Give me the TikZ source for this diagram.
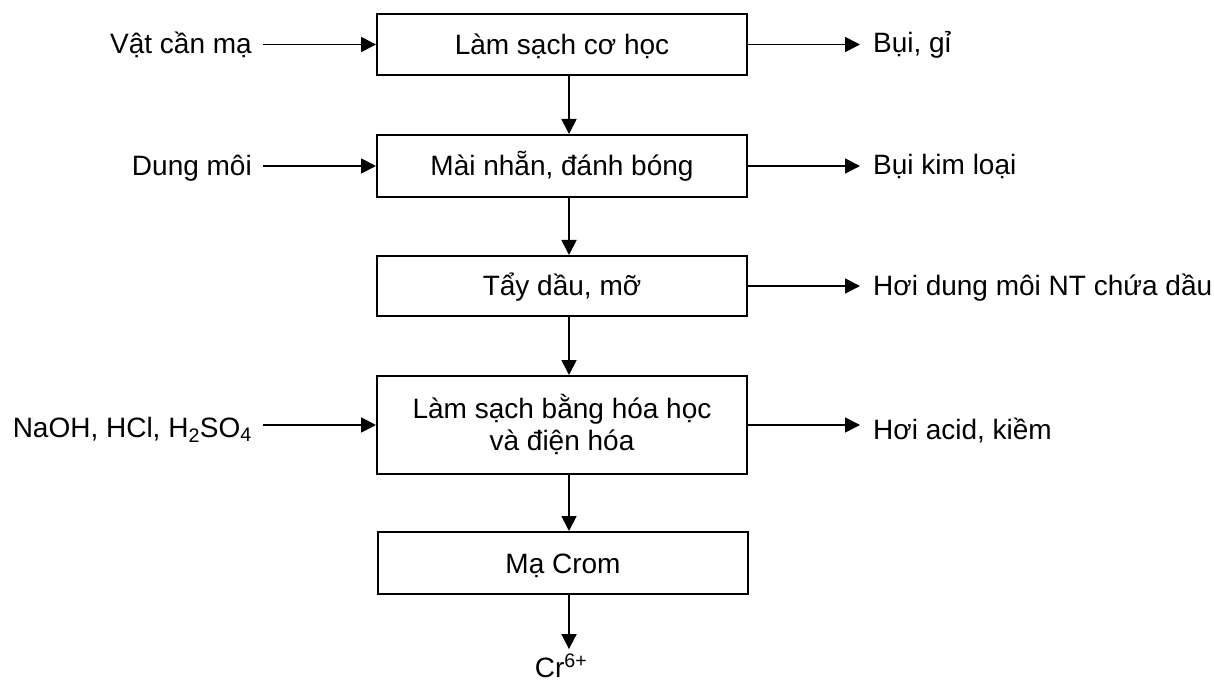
\documentclass[tikz,border=0pt]{standalone}
\usepackage{fontspec}
\setmainfont{Liberation Sans}
\usetikzlibrary{arrows.meta}
\begin{document}
\begin{tikzpicture}[x=1pt,y=-1pt,
  every node/.style={font=\fontsize{28}{32.5}\selectfont},
  procbox/.style={draw,line width=2pt,minimum width=370pt,inner sep=0pt,align=center},
  oneline/.style={text height=24pt,text depth=4pt},
  inlab/.style={anchor=base east,inner xsep=11pt,inner ysep=0pt},
  outlab/.style={anchor=base west,inner xsep=13pt,inner ysep=0pt},
  arr/.style={line width=1.8pt,-{Triangle[length=15pt,width=15pt]}}]
\useasboundingbox (0,0) rectangle (1214,684);
\coordinate (ax) at (569,0);
% process boxes
\node[procbox,oneline,minimum height=61pt] (b1) at (562,44.5) {Làm sạch cơ học};
\node[procbox,oneline,minimum height=62pt] (b2) at (562,166) {Mài nhẵn, đánh bóng};
\node[procbox,oneline,minimum height=60pt] (b3) at (562,286) {Tẩy dầu, mỡ};
\node[procbox,minimum height=98pt] (b4) at (562,425)
  {\begin{tabular}{@{}c@{}}\rule{0pt}{28.75pt}Làm sạch bằng hóa học\\và điện hóa\end{tabular}};
\node[procbox,oneline,minimum height=62pt] (b5) at (563,563) {Mạ Crom};
% inputs
\node[inlab] (i1) at (263,54) {Vật cần mạ};
\node[inlab] (i2) at (263,176) {Dung môi};
\node[inlab] (i4) at (263,437) {NaOH, HCl, H\textsubscript{2}SO\textsubscript{4}};
% outputs
\node[outlab] (o1) at (860,53) {Bụi, gỉ};
\node[outlab] (o2) at (860,175) {Bụi kim loại};
\node[outlab] (o3) at (860,295) {Hơi dung môi NT chứa dầu};
\node[outlab] (o4) at (860,439) {Hơi acid, kiềm};
% final product
\node[anchor=base,inner sep=0pt] (cr) at (561,677) {Cr\textsuperscript{6+}};
% input arrows
\draw[arr] (i1.east |- b1.west) -- (b1.west);
\draw[arr] (i2.east |- b2.west) -- (b2.west);
\draw[arr] (i4.east |- b4.west) -- (b4.west);
% output arrows
\draw[arr] (b1.east) -- (b1.east -| o1.west);
\draw[arr] (b2.east) -- (b2.east -| o2.west);
\draw[arr] (b3.east) -- (b3.east -| o3.west);
\draw[arr] (b4.east) -- (b4.east -| o4.west);
% main flow
\draw[arr] (ax |- b1.south) -- (ax |- b2.north);
\draw[arr] (ax |- b2.south) -- (ax |- b3.north);
\draw[arr] (ax |- b3.south) -- (ax |- b4.north);
\draw[arr] (ax |- b4.south) -- (ax |- b5.north);
\draw[arr] (ax |- b5.south) -- ([yshift=5pt]ax |- cr.north);
\end{tikzpicture}
\end{document}
